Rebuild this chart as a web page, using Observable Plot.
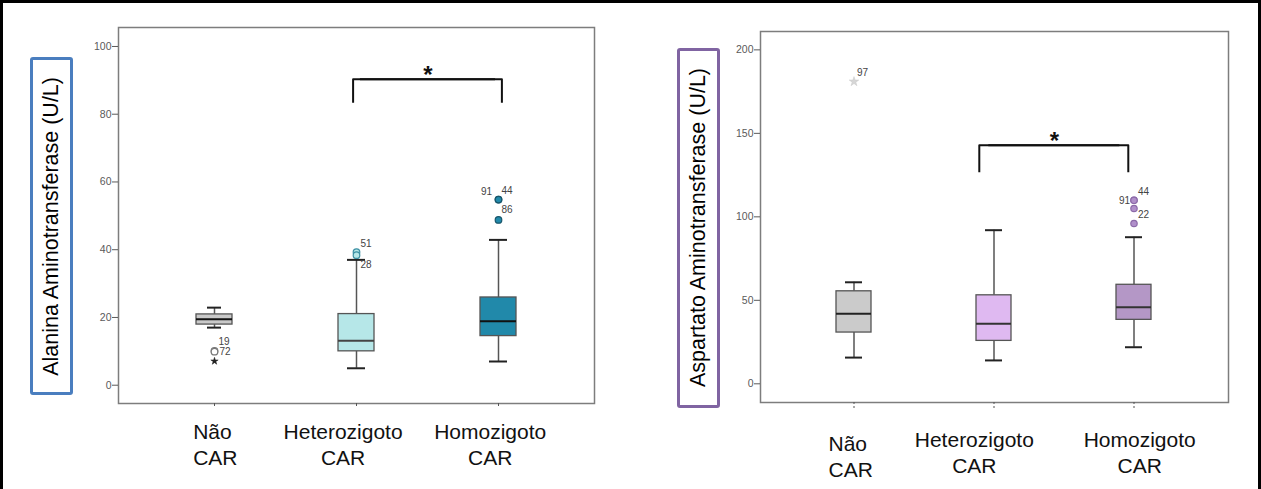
<!DOCTYPE html>
<html><head><meta charset="utf-8">
<script src="https://cdn.jsdelivr.net/npm/d3@7"></script>
<script src="https://cdn.jsdelivr.net/npm/@observablehq/plot@0.6"></script>
<style>
html,body{margin:0;padding:0;background:#fff;}
#root{position:relative;width:1261px;height:489px;overflow:hidden;font-family:"Liberation Sans",Arial,sans-serif;background:#fff;}
#border{position:absolute;left:0;top:0;width:1261px;height:489px;box-sizing:border-box;border:3px solid #000;border-bottom:none;pointer-events:none;}
.panel{position:absolute;top:0;}
.ytitle{position:absolute;box-sizing:border-box;border:3px solid;border-radius:3px;display:flex;align-items:center;justify-content:center;background:#fff;}
.ytitle span{writing-mode:vertical-rl;transform:rotate(180deg);font-size:21.5px;color:#000;white-space:nowrap;line-height:1;}
</style></head><body><div id="root"></div>
<script>
// ---------- data ----------
const categories = ["Não CAR", "Heterozigoto CAR", "Homozigoto CAR"];
const categoryLabels = ["Não\nCAR", "Heterozigoto\nCAR", "Homozigoto\nCAR"];

// Alanina Aminotransferase (U/L)
const altTitle = "Alanina Aminotransferase (U/L)";
const altTicks = [0, 20, 40, 60, 80, 100];
const altLow = [17.0, 5.0, 7.0];
const altQ1 = [17.9, 10.0, 14.5];
const altMedian = [19.5, 13.1, 18.9];
const altQ3 = [20.9, 21.0, 25.9];
const altHigh = [22.9, 37.0, 42.9];
const altOutlierGroup = ["Não CAR", "Não CAR", "Não CAR", "Heterozigoto CAR", "Heterozigoto CAR", "Homozigoto CAR", "Homozigoto CAR", "Homozigoto CAR"];
const altOutlierValue = [10.1, 9.9, 7.1, 39.3, 38.4, 54.8, 54.8, 48.8];
const altOutlierId = ["19", "72", "", "51", "28", "91", "44", "86"];
const altOutlierType = ["outlier", "outlier", "extreme", "outlier", "outlier", "outlier", "outlier", "outlier"];
const altBracketGroups = ["Heterozigoto CAR", "Homozigoto CAR"];
const altBracketValues = [83.4, 90.3]; // leg end, bar level
const altSignificance = "*";

// Aspartato Aminotransferase (U/L)
const astTitle = "Aspartato Aminotransferase (U/L)";
const astTicks = [0, 50, 100, 150, 200];
const astLow = [15.7, 14.0, 21.9];
const astQ1 = [30.7, 25.7, 38.3];
const astMedian = [41.9, 36.0, 45.9];
const astQ3 = [55.4, 53.0, 59.3];
const astHigh = [60.8, 92.0, 87.8];
const astOutlierGroup = ["Não CAR", "Homozigoto CAR", "Homozigoto CAR", "Homozigoto CAR", "Homozigoto CAR"];
const astOutlierValue = [181.0, 109.9, 109.9, 105.0, 96.0];
const astOutlierId = ["97", "91", "44", "22", ""];
const astOutlierType = ["extreme", "outlier", "outlier", "outlier", "outlier"];
const astBracketGroups = ["Heterozigoto CAR", "Homozigoto CAR"];
const astBracketValues = [126.7, 142.9];
const astSignificance = "*";

// ---------- styles ----------
const FONT = "Liberation Sans, Arial, sans-serif";
const leftStyle = {
  svgLeft: 0, width: 630, marginLeft: 118, marginRight: 36, marginTop: 27, marginBottom: 86,
  yDomain: [-5.4, 105.6],
  fills: ["#c9c9c9", "#b6e7e8", "#2189aa"],
  medianStroke: ["#111", "#444", "#111"],
  capInset: [11, 9, 9],
  outlier: {
    "Não CAR": {fill: "#fff", stroke: "#777"},
    "Heterozigoto CAR": {fill: "#b6e7e8", stroke: "#3b8fa3"},
    "Homozigoto CAR": {fill: "#2189aa", stroke: "#17566b"}
  },
  extreme: {fill: "#222", stroke: "#222", r: 2.3},
  outlierR: 3.3,
  labelPlace: {"19": [4, -9.5, "start"], "72": [5, 0.5, "start"], "51": [4, -8, "start"], "28": [4, 10, "start"],
               "91": [-6.5, -8, "end"], "44": [3, -9, "start"], "86": [3, -10, "start"]},
  xLabel: [[-21.3, 16.5, "start"], [-13.4, 16.5, "middle"], [-8.3, 16.5, "middle"]],
  xTickSize: 3, xTickDash: null,
  bracketDx: [-3.4, 3.4], starDx: 71.3,
  titleBox: {left: 30, top: 57, width: 43, height: 338, color: "#4a7ebf"}
};
const rightStyle = {
  svgLeft: 630, width: 631, marginLeft: 130, marginRight: 33, marginTop: 31, marginBottom: 87,
  yDomain: [-11.2, 211],
  fills: ["#cbcbcb", "#dfb9f1", "#b497c6"],
  medianStroke: ["#222", "#333", "#333"],
  capInset: [9, 9, 9],
  outlier: {
    "Não CAR": {fill: "#ccc", stroke: "#bbb"},
    "Heterozigoto CAR": {fill: "#dfb9f1", stroke: "#9a76b8"},
    "Homozigoto CAR": {fill: "#b08fca", stroke: "#8c6aa8"}
  },
  extreme: {fill: "#d6d6d6", stroke: "#c8c8c8", r: 3},
  outlierR: 3.2,
  labelPlace: {"97": [3, -8.5, "start"], "91": [-4, 0.5, "end"], "44": [4, -9, "start"], "22": [4, 6.5, "start"]},
  xLabel: [[-25.5, 29.5, "start"], [-19.7, 25.5, "middle"], [5.7, 25.5, "middle"]],
  xTickSize: 8, xTickDash: "2,2",
  bracketDx: [-14.7, -5.7], starDx: 60.3,
  titleBox: {left: 677, top: 48, width: 43, height: 360, color: "#8064a2"}
};

function boxChart(d, s) {
  const rows = categories.map((c, i) => ({cat: c, lo: d.low[i], q1: d.q1[i], med: d.median[i], q3: d.q3[i], hi: d.high[i], i}));
  const outs = d.outGroup.map((g, i) => ({cat: g, v: d.outValue[i], id: d.outId[i], type: d.outType[i]}));
  const [g0, g1] = d.bracketGroups;
  const [yb, yt] = d.bracketValues;
  const leftHalf = [{x: g0, y: yb}, {x: g0, y: yt}, {x: g1, y: yt}];
  const rightHalf = [{x: g0, y: yt}, {x: g1, y: yt}, {x: g1, y: yb}];

  const marks = [
    Plot.frame({stroke: "#7d7d7d", strokeWidth: 1.5}),
    Plot.axisY({ticks: d.ticks, tickSize: 6, tickPadding: 1, fontSize: 10.5, color: "#5a5a5a", label: null}),
    Plot.axisX({tickSize: s.xTickSize, tickFormat: () => "", label: null, color: "#555", strokeDasharray: s.xTickDash}),
    Plot.ruleX(rows, {x: "cat", y1: "lo", y2: "q1", stroke: "#555", strokeWidth: 1.5}),
    Plot.ruleX(rows, {x: "cat", y1: "q3", y2: "hi", stroke: "#555", strokeWidth: 1.5}),
    ...rows.map(r => Plot.tickY([r], {x: "cat", y: "lo", stroke: "#222", strokeWidth: 2, insetLeft: s.capInset[r.i], insetRight: s.capInset[r.i]})),
    ...rows.map(r => Plot.tickY([r], {x: "cat", y: "hi", stroke: "#222", strokeWidth: 2, insetLeft: s.capInset[r.i], insetRight: s.capInset[r.i]})),
    ...rows.map(r => Plot.barY([r], {x: "cat", y1: "q1", y2: "q3", fill: s.fills[r.i], stroke: "#555", strokeWidth: 1.3})),
    ...rows.map(r => Plot.tickY([r], {x: "cat", y: "med", stroke: s.medianStroke[r.i], strokeWidth: 2})),
    ...outs.map(o => o.type === "extreme"
      ? Plot.dot([o], {x: "cat", y: "v", symbol: "star", r: s.extreme.r, fill: s.extreme.fill, stroke: s.extreme.stroke, strokeWidth: 0.5})
      : Plot.dot([o], {x: "cat", y: "v", symbol: "circle", r: s.outlierR, fill: s.outlier[o.cat].fill, stroke: s.outlier[o.cat].stroke, strokeWidth: 1.2})),
    ...outs.filter(o => o.id && s.labelPlace[o.id]).map(o => {
      const [dx, dy, anchor] = s.labelPlace[o.id];
      return Plot.text([o], {x: "cat", y: "v", text: "id", dx, dy, textAnchor: anchor, fontSize: 10, fill: "#444"});
    }),
    Plot.line(leftHalf, {x: "x", y: "y", stroke: "#111", strokeWidth: 2, dx: s.bracketDx[0], strokeLinejoin: "round", strokeLinecap: "butt"}),
    Plot.line(rightHalf, {x: "x", y: "y", stroke: "#111", strokeWidth: 2, dx: s.bracketDx[1], strokeLinejoin: "round", strokeLinecap: "butt"}),
    Plot.text([{x: g0, y: yt}], {x: "x", y: "y", text: () => d.significance, dx: s.starDx, dy: 4, lineAnchor: "bottom", fontSize: 24, fontWeight: "bold", fill: "#111"}),
    ...categories.map((c, i) => {
      const [dx, dy, anchor] = s.xLabel[i];
      return Plot.text([c], {x: v => v, text: () => categoryLabels[i], frameAnchor: "bottom", lineAnchor: "top", dx, dy, textAnchor: anchor, fontSize: 21, lineHeight: 1.24, fill: "#111"});
    })
  ];

  return Plot.plot({
    width: s.width, height: 489,
    marginLeft: s.marginLeft, marginRight: s.marginRight, marginTop: s.marginTop, marginBottom: s.marginBottom,
    x: {domain: categories, paddingInner: 0.748, paddingOuter: 0.54},
    y: {domain: s.yDomain},
    style: {fontFamily: FONT, background: "transparent", overflow: "visible"},
    marks
  });
}

const root = document.getElementById("root");
function addPanel(d, s, title) {
  const wrap = document.createElement("div");
  wrap.className = "panel";
  wrap.style.left = s.svgLeft + "px";
  wrap.appendChild(boxChart(d, s));
  root.appendChild(wrap);
  const tb = document.createElement("div");
  tb.className = "ytitle";
  Object.assign(tb.style, {left: s.titleBox.left + "px", top: s.titleBox.top + "px", width: s.titleBox.width + "px", height: s.titleBox.height + "px", borderColor: s.titleBox.color});
  const sp = document.createElement("span");
  sp.textContent = title;
  tb.appendChild(sp);
  root.appendChild(tb);
}

addPanel({low: altLow, q1: altQ1, median: altMedian, q3: altQ3, high: altHigh, ticks: altTicks,
  outGroup: altOutlierGroup, outValue: altOutlierValue, outId: altOutlierId, outType: altOutlierType,
  bracketGroups: altBracketGroups, bracketValues: altBracketValues, significance: altSignificance}, leftStyle, altTitle);
addPanel({low: astLow, q1: astQ1, median: astMedian, q3: astQ3, high: astHigh, ticks: astTicks,
  outGroup: astOutlierGroup, outValue: astOutlierValue, outId: astOutlierId, outType: astOutlierType,
  bracketGroups: astBracketGroups, bracketValues: astBracketValues, significance: astSignificance}, rightStyle, astTitle);

const border = document.createElement("div");
border.id = "border";
root.appendChild(border);
</script>
</body></html>
